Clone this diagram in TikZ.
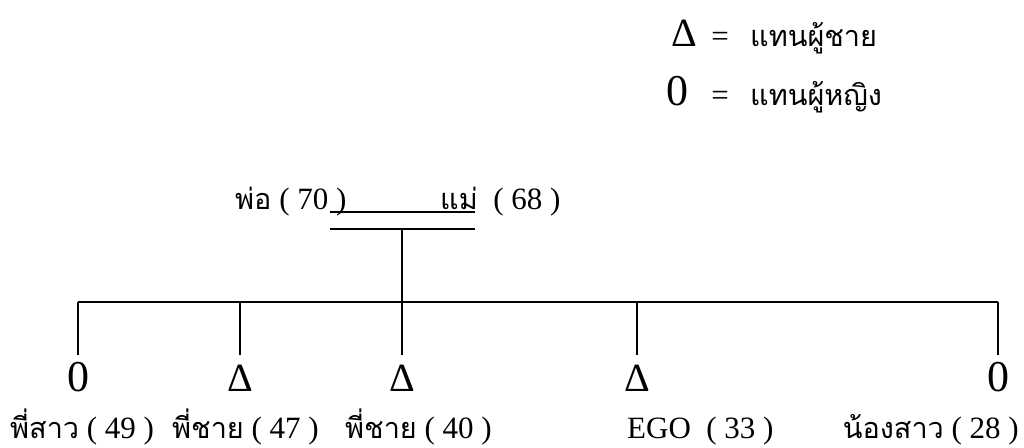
\documentclass[tikz,border=0pt]{standalone}
\usepackage{fontspec}
\setmainfont{Liberation Serif}
\newfontfamily\thaifont[Script=Thai,Scale=0.93]{Loma}
\newcommand\tht[1]{{\thaifont #1}}
\tikzset{
  lbl/.style={font=\fontsize{31}{31}\selectfont, inner sep=0pt, anchor=base},
  symb/.style={inner xsep=0pt, inner ysep=0pt, text height=36pt, text depth=0pt, anchor=base},
  symm/.style={symb, font=\fontsize{40}{40}\selectfont},
  symf/.style={symb, font=\fontsize{44}{44}\selectfont},
  lnk/.style={line width=1.2pt},
}
\begin{document}
\begin{tikzpicture}[x=1pt,y=-1pt]
\useasboundingbox[fill=white] (0,0) rectangle (1024,447);
% legend
\node[symm] (lgM) at (684,46) {Δ};
\node[lbl] (lgE1) at (720,46) {=};
\node[lbl, anchor=base west] (lgT1) at (750,46) {\tht{แทนผู้ชาย}};
\node[symf] (lgF) at (677,105) {0};
\node[lbl] (lgE2) at (720,105) {=};
\node[lbl, anchor=base west] (lgT2) at (750,105) {\tht{แทนผู้หญิง}};
% parents
\node[lbl, anchor=base west] (fa) at (235,209) {\tht{พ่อ} ( 70 )};
\node[lbl, anchor=base west] (mo) at (440,209) {\tht{แม่}\ \ ( 68 )};
\coordinate (mA) at (330,212);
\coordinate (mB) at (475,212);
\coordinate (mC) at (330,229);
\coordinate (mD) at (475,229);
\coordinate (mJ) at (402,229);
\coordinate (sJ) at (402,302);
\coordinate (sL) at (78,302);
\coordinate (sR) at (998,302);
\coordinate (s2) at (240,302);
\coordinate (s4) at (637,302);
\draw[lnk] (mA) -- (mB);
\draw[lnk] (mC) -- (mD);
\draw[lnk] (mJ) -- (sJ);
\draw[lnk] (sL) -- (sR);
% children symbols
\node[symf] (c1) at (78,391) {0};
\node[symm] (c2) at (240,391) {Δ};
\node[symm] (c3) at (402,391) {Δ};
\node[symm] (c4) at (637,391) {Δ};
\node[symf] (c5) at (998,391) {0};
\draw[lnk] (sL) -- (c1.north);
\draw[lnk] (s2) -- (c2.north);
\draw[lnk] (sJ) -- (c3.north);
\draw[lnk] (s4) -- (c4.north);
\draw[lnk] (sR) -- (c5.north);
% children labels
\node[lbl, anchor=base west] (l1) at (10,438) {\tht{พี่สาว} ( 49 )};
\node[lbl, anchor=base west] (l2) at (172,438) {\tht{พี่ชาย} ( 47 )};
\node[lbl, anchor=base west] (l3) at (345,438) {\tht{พี่ชาย} ( 40 )};
\node[lbl, anchor=base west] (l4) at (627,438) {EGO\ \ ( 33 )};
\node[lbl, anchor=base east] (l5) at (1019,438) {\tht{น้องสาว} ( 28 )};
\end{tikzpicture}
\end{document}
